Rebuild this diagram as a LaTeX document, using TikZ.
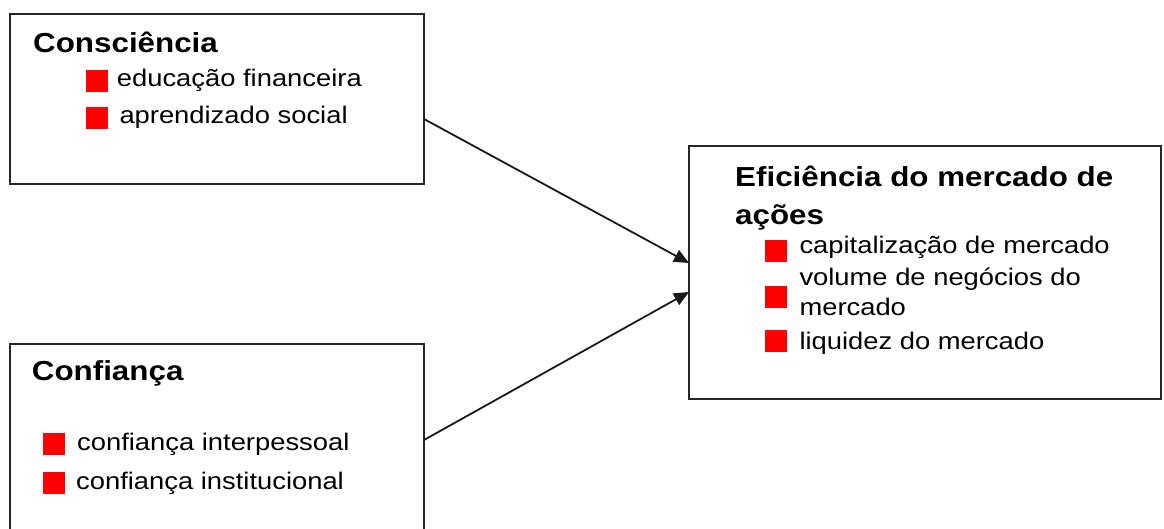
\documentclass[tikz,border=0pt]{standalone}
\usepackage{fontspec}
\setmainfont{Liberation Sans}[FakeStretch=1.14]
\usetikzlibrary{arrows.meta}
\tikzset{
  box/.style={draw=black!85, line width=1.7pt, inner sep=0pt, outer sep=0pt, anchor=north west},
  title/.style={anchor=base west, inner sep=0pt, font=\fontsize{27.5pt}{33pt}\selectfont\bfseries},
  item/.style={anchor=base west, inner sep=0pt, font=\fontsize{24pt}{29pt}\selectfont},
  bullet/.style={fill=red, draw=none, inner sep=0pt, minimum width=22pt, minimum height=22pt, anchor=north west},
  link/.style={draw=black!90, line width=1.8pt, -{Triangle[length=15pt,width=13pt]}}
}
\begin{document}
\begin{tikzpicture}[x=1pt,y=-1pt]
\useasboundingbox (0,0) rectangle (1164,529);
\clip (0,0) rectangle (1164,529);
% boxes
\node[box, minimum width=414pt, minimum height=170pt] (b1) at (10,14) {};
\node[box, minimum width=414pt, minimum height=200pt] (b2) at (10,344) {};
\node[box, minimum width=472pt, minimum height=253pt] (b3) at (689,146) {};
% box 1
\node[title] (t1) at (33,52.3) {Consciência};
\node[bullet] (s11) at (86,70) {};
\node[item] (i11) at (116.7,86.7) {educação financeira};
\node[bullet] (s12) at (86,106.7) {};
\node[item] (i12) at (119.3,124) {aprendizado social};
% box 2
\node[title] (t2) at (31.7,380) {Confiança};
\node[bullet] (s21) at (43,433) {};
\node[item] (i21) at (77,450) {confiança interpessoal};
\node[bullet] (s22) at (43,472) {};
\node[item] (i22) at (76,489.3) {confiança institucional};
% box 3
\node[title] (t3a) at (735,186.5) {Eficiência do mercado de};
\node[title] (t3b) at (735,225) {ações};
\node[bullet] (s31) at (765,239.5) {};
\node[item] (i31) at (799.3,254) {capitalização de mercado};
\node[bullet] (s32) at (765,285.7) {};
\node[item] (i32a) at (799.3,286) {volume de negócios do};
\node[item] (i32b) at (799.3,316) {mercado};
\node[bullet] (s33) at (765,330) {};
\node[item] (i33) at (799.3,349) {liquidez do mercado};
% connectors
\coordinate (a1s) at (b1.north east |- 0,119);
\coordinate (a1e) at (b3.north west |- 0,263);
\coordinate (a2s) at (b2.north east |- 0,440);
\coordinate (a2e) at (b3.north west |- 0,292);
\draw[link] (a1s) -- (a1e);
\draw[link] (a2s) -- (a2e);
\end{tikzpicture}
\end{document}
